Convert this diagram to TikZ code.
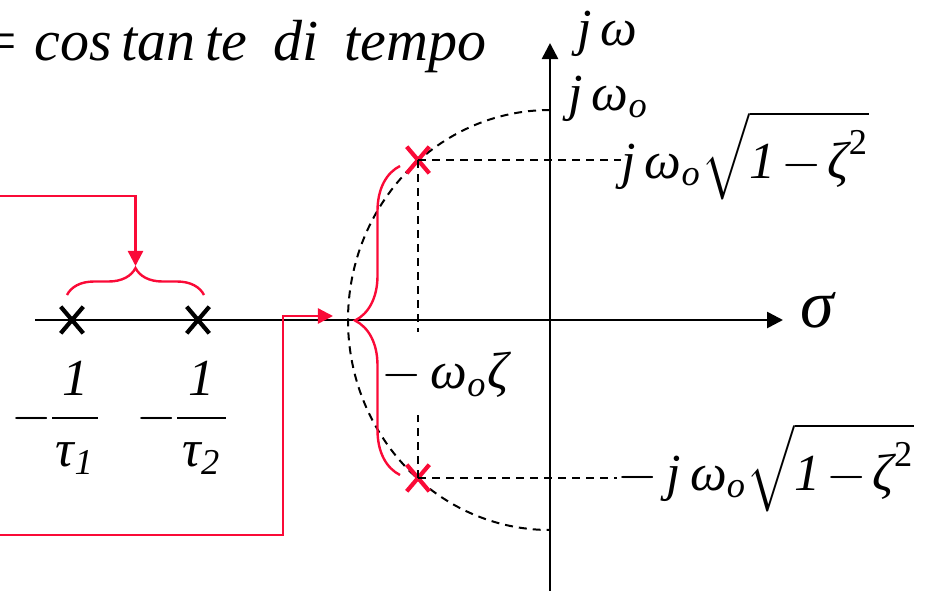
\RequirePackage{fix-cm}
\documentclass[tikz,border=0pt]{standalone}
\usepackage{amsmath}
\usepackage{fontspec}
\setmainfont{Liberation Serif}
\usetikzlibrary{arrows.meta,shapes.misc,decorations.pathreplacing,positioning}

\definecolor{polered}{RGB}{250,10,55}
\newcommand{\mi}[1]{\text{\itshape #1}}
\newcommand{\rootterm}{\sqrt{\mi{1}\mkern2mu{-}\mkern2mu\mi{ζ}^{\textup{2}}}}

\begin{document}
\begin{tikzpicture}[x=0.25pt, y=-0.25pt,
    axis/.style={line width=0.65pt, -{Triangle[length=4pt,width=4pt]}},
    guide/.style={line width=0.5pt, dash pattern=on 2pt off 1.5pt},
    feed/.style={draw=polered, line width=0.6pt, -{Triangle[length=3.8pt,width=3.8pt]}},
    redbrace/.style={draw=polered, line width=0.6pt, decorate, decoration={brace, amplitude=#1}},
    pole/.style={draw, cross out, line width=1.05pt, minimum width=4.6pt, minimum height=5.6pt, inner sep=0pt},
    lab/.style={font=\fontsize{13}{15.6}\selectfont\itshape, inner sep=0pt}]
    \useasboundingbox (0,0) rectangle (930,590);

    % axes
    \coordinate (xs) at (35,320);
    \coordinate (xe) at (783,320);
    \coordinate (ys) at (550,592);
    \coordinate (ye) at (550,43);
    \draw[axis] (xs) -- (xe);
    \draw[axis] (ys) -- (ye);

    % circle of radius omega_o
    \draw[guide] (550,110) arc[start angle=270, end angle=90, x radius=202, y radius=210];

    % poles
    \node[pole] (p1) at (72,320) {};
    \node[pole] (p2) at (198,320) {};
    \node[pole, draw=polered] (pc) at (418,160) {};
    \node[pole, draw=polered] (pcc) at (418,478) {};

    % labels
    \node[lab, anchor=base west] (sigma) at (800,327) {\fontsize{17}{20}\selectfont σ};
    \node[lab, anchor=base west] (jw) at (577,45) {$\mi{j}\,\mi{ω}$};
    \node[lab, anchor=base west] (jwo) at (568,110) {$\mi{j}\,\mi{ω}_{\mi{o}}$};
    \node[lab, anchor=base west] (labTop) at (621,178) {$\mi{j}\,\mi{ω}_{\mi{o}}\rootterm$};
    \node[lab, anchor=base west] (labBot) at (617,490) {$-\,\mi{j}\,\mi{ω}_{\mi{o}}\rootterm$};
    \node[lab] (damp) at (445,375) {$-\,\mi{ω}_{\mi{o}}\mi{ζ}$};
    \node[lab, anchor=east] (tau1) at (104,418) {$-\mkern-1.5mu\dfrac{\mi{1}}{\makebox[11.5pt]{$\mi{τ}_{\mi{1}}$}}$};
    \node[lab, anchor=east] (tau2) at (232,418) {$-\mkern-1.5mu\dfrac{\mi{1}}{\makebox[12.25pt]{$\mi{τ}_{\mi{2}}$}}$};
    \node[lab, font=\fontsize{14.5}{17}\selectfont\itshape, anchor=base east] (title) at (487,60) {= cos\,tan\,te\hspace{0.45em}di\hspace{0.45em}tempo};

    % projections
    \coordinate (dropA) at (418,332);
    \coordinate (dropB) at (418,415);
    \draw[guide] (pc.center) -- (pc.center -| labTop.west);
    \draw[guide] (pcc.center) -- (pcc.center -| labBot.west);
    \draw[guide] (pc.center) -- (dropA);
    \draw[guide] (pcc.center) -- (dropB);

    % braces and red connectors
    \draw[redbrace=6.75pt] ([shift={(-5,-25)}]p1.center) -- ([shift={(6,-25)}]p2.center);
    \draw[redbrace=11.25pt] ([shift={(-18,-3)}]pcc.center) -- ([shift={(-18,6)}]pc.center);
    \coordinate (inA) at (0,196);
    \coordinate (tipA) at (135.5,266);
    \draw[feed] (inA) -| (tipA);
    \coordinate (inB) at (0,535);
    \coordinate (kneeB) at (283,316);
    \coordinate (tipB) at (333,316);
    \draw[feed] (inB) -| (kneeB) -- (tipB);
\end{tikzpicture}
\end{document}
